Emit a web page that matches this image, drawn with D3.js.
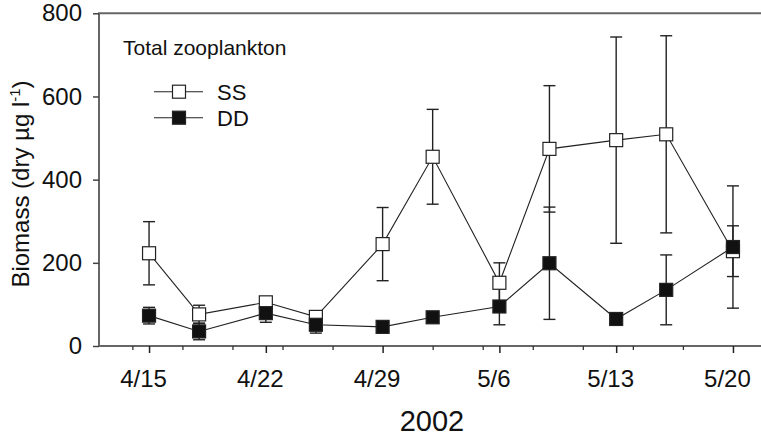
<!DOCTYPE html>
<html><head><meta charset="utf-8">
<script src="https://cdn.jsdelivr.net/npm/d3@7"></script>
<style>
html,body{margin:0;padding:0;background:#fff;}
svg{display:block;font-family:"Liberation Sans",Arial,Helvetica,sans-serif;}
</style></head>
<body>
<svg id="c" width="761" height="438"></svg>
<script>
const dates = ["2002-04-15","2002-04-18","2002-04-22","2002-04-25","2002-04-29","2002-05-02","2002-05-06","2002-05-09","2002-05-13","2002-05-16","2002-05-20"];
const ssValues = [223, 76, 105, 70, 245, 455, 152, 474, 495, 509, 228];
const ssErrors = [76, 22, 10, 6, 88, 114, 48, 152, 248, 237, 61];
const ddValues = [73, 35, 79, 51, 46, 69, 95, 199, 65, 135, 238];
const ddErrors = [20, 20, 22, 20, 6, 13, 44, 135, 6, 84, 147];
const majorTickDates = ["2002-04-15","2002-04-22","2002-04-29","2002-05-06","2002-05-13","2002-05-20"];
const majorTickLabels = ["4/15","4/22","4/29","5/6","5/13","5/20"];
const minorTickDates = ["2002-04-14","2002-04-17","2002-04-20","2002-04-23","2002-04-26","2002-05-02","2002-05-05","2002-05-08","2002-05-11","2002-05-14","2002-05-17","2002-05-23"];
const yTicks = [0, 200, 400, 600, 800];

const parse = d3.utcParse("%Y-%m-%d");
const svg = d3.select("#c");
const x = d3.scaleUtc().domain([parse("2002-04-12"), parse("2002-05-23")]).range([99, 783]);
const y = d3.scaleLinear().domain([0, 800]).range([346, 13.3]);

const axisCol = "#666";
svg.append("line").attr("x1",99).attr("x2",99).attr("y1",y(800)).attr("y2",y(0)+1).attr("stroke",axisCol).attr("stroke-width",2);
svg.append("line").attr("x1",98).attr("x2",783).attr("y1",y(0)).attr("y2",y(0)).attr("stroke",axisCol).attr("stroke-width",2);
svg.append("line").attr("x1",98).attr("x2",783).attr("y1",y(800)).attr("y2",y(800)).attr("stroke",axisCol).attr("stroke-width",2);

const yAxis = d3.axisLeft(y).tickValues(yTicks).tickSize(6).tickPadding(11).tickFormat(d3.format("d"));
const gy = svg.append("g").attr("transform","translate(99,0)").call(yAxis);
gy.select(".domain").remove();
gy.selectAll(".tick line").attr("stroke","#444").attr("stroke-width",1.5);
gy.selectAll(".tick text").attr("font-size",24).attr("fill","#111").attr("font-family","Liberation Sans, Arial, sans-serif");

const xAxis = d3.axisBottom(x).tickValues(majorTickDates.map(parse)).tickSize(7).tickPadding(17)
  .tickFormat((d,i)=>majorTickLabels[i]);
const gx = svg.append("g").attr("transform",`translate(0,${y(0)})`).call(xAxis);
gx.select(".domain").remove();
gx.selectAll(".tick line").attr("stroke","#222").attr("stroke-width",1.5);
gx.selectAll(".tick text").attr("font-size",24).attr("fill","#111").attr("dx",-6).attr("font-family","Liberation Sans, Arial, sans-serif");
const xMinor = d3.axisBottom(x).tickValues(minorTickDates.map(parse)).tickSize(4).tickFormat("");
const gm = svg.append("g").attr("transform",`translate(0,${y(0)})`).call(xMinor);
gm.select(".domain").remove();
gm.selectAll(".tick line").attr("stroke","#333").attr("stroke-width",1.3);

svg.append("text").attr("x",432).attr("y",431).attr("text-anchor","middle").attr("font-size",29).attr("fill","#111").text("2002");
const yl = svg.append("text").attr("transform","translate(29,184) rotate(-90)").attr("text-anchor","middle").attr("font-size",24).attr("fill","#111");
yl.append("tspan").text("Biomass (dry µg l");
yl.append("tspan").attr("dy",-9).attr("font-size",15).text("-1");
yl.append("tspan").attr("dy",9).text(")");

svg.append("text").attr("x",123).attr("y",55).attr("font-size",21).attr("fill","#111").text("Total zooplankton");

const series = [
  {name:"SS", values:ssValues, errors:ssErrors, fill:"#fff"},
  {name:"DD", values:ddValues, errors:ddErrors, fill:"#111"}
];
const pts = s => dates.map((d,i)=>({x:x(parse(d)), v:s.values[i], e:s.errors[i]}));
const sq = 13, cap = 12;
const line = d3.line().x(d=>d.x).y(d=>y(d.v));

series.forEach(s=>{
  const p = pts(s);
  const g = svg.append("g");
  g.selectAll("line.eb").data(p).join("line").attr("x1",d=>d.x).attr("x2",d=>d.x)
    .attr("y1",d=>y(d.v+d.e)).attr("y2",d=>y(d.v-d.e)).attr("stroke","#222").attr("stroke-width",1.4);
  g.selectAll("line.ct").data(p).join("line").attr("x1",d=>d.x-cap/2).attr("x2",d=>d.x+cap/2)
    .attr("y1",d=>y(d.v+d.e)).attr("y2",d=>y(d.v+d.e)).attr("stroke","#222").attr("stroke-width",1.4);
  g.selectAll("line.cb").data(p).join("line").attr("x1",d=>d.x-cap/2).attr("x2",d=>d.x+cap/2)
    .attr("y1",d=>y(d.v-d.e)).attr("y2",d=>y(d.v-d.e)).attr("stroke","#222").attr("stroke-width",1.4);
});
series.forEach(s=>{
  const p = pts(s);
  svg.append("path").datum(p).attr("d",line).attr("fill","none").attr("stroke","#222").attr("stroke-width",1.1);
});
series.forEach(s=>{
  const p = pts(s);
  svg.append("g").selectAll("rect").data(p).join("rect")
    .attr("x",d=>d.x-sq/2).attr("y",d=>y(d.v)-sq/2).attr("width",sq).attr("height",sq)
    .attr("fill",s.fill).attr("stroke","#222").attr("stroke-width",1.2);
});

const leg = [{name:"SS", fill:"#fff", y:91.7},{name:"DD", fill:"#111", y:117.7}];
leg.forEach(l=>{
  svg.append("line").attr("x1",154).attr("x2",203).attr("y1",l.y).attr("y2",l.y).attr("stroke","#222").attr("stroke-width",1.1);
  svg.append("rect").attr("x",179-sq/2).attr("y",l.y-sq/2).attr("width",sq).attr("height",sq).attr("fill",l.fill).attr("stroke","#222").attr("stroke-width",1.2);
  svg.append("text").attr("x",217).attr("y",l.y+8).attr("font-size",22).attr("fill","#111").text(l.name);
});
</script>
</body></html>
